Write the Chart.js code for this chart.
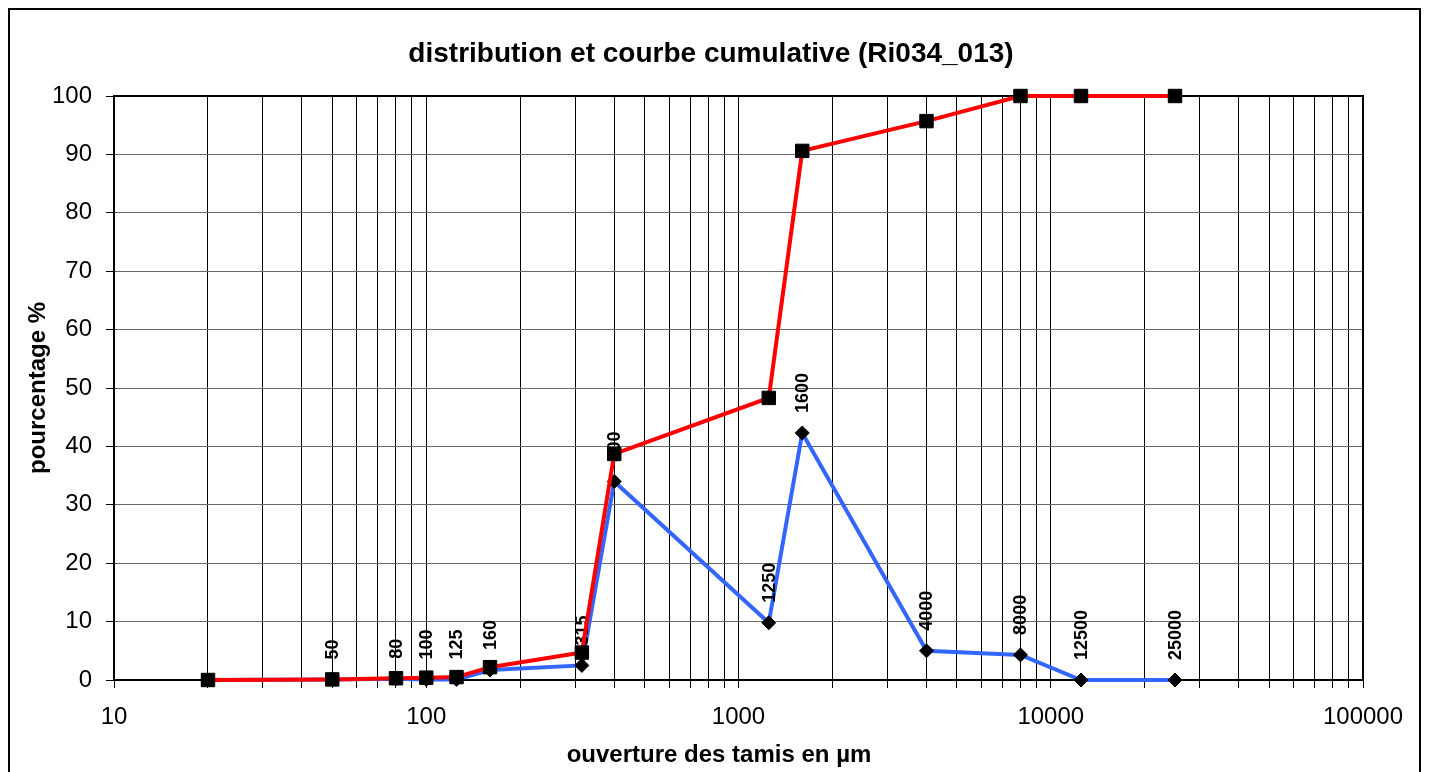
<!DOCTYPE html>
<html>
<head>
<meta charset="utf-8">
<script src="https://cdn.jsdelivr.net/npm/chart.js@4/dist/chart.umd.min.js"></script>
<style>
  html, body { margin: 0; padding: 0; background: #fff; }
  canvas { display: block; }
</style>
</head>
<body>
<canvas id="c" width="1429" height="772"></canvas>
<script>
// ---- data ----
const sieves = [20, 50, 80, 100, 125, 160, 315, 400, 1250, 1600, 4000, 8000, 12500, 25000];
const cumulative = [0, 0.1, 0.3, 0.4, 0.5, 2.2, 4.7, 38.7, 48.3, 90.6, 95.7, 100, 100, 100];
const distribution = [0, 0.1, 0.2, 0.1, 0.1, 1.7, 2.5, 34.0, 9.8, 42.3, 5.0, 4.3, 0, 0];
const pointLabels = ['', '50', '80', '100', '125', '160', '315', '400', '1250', '1600', '4000', '8000', '12500', '25000'];
const xTickValues = [10, 20, 30, 40, 50, 60, 70, 80, 90,
  100, 200, 300, 400, 500, 600, 700, 800, 900,
  1000, 2000, 3000, 4000, 5000, 6000, 7000, 8000, 9000,
  10000, 20000, 30000, 40000, 50000, 60000, 70000, 80000, 90000, 100000];
const xTickLabels = ['10', '100', '1000', '10000', '100000'];
const titleText = 'distribution et courbe cumulative (Ri034_013)';
const xTitle = 'ouverture des tamis en µm';
const yTitle = 'pourcentage %';

const FONT = "'Liberation Sans', Arial, sans-serif";
Chart.defaults.font.family = FONT;
Chart.defaults.color = '#000';

const labelPlugin = {
  id: 'pointLabels',
  afterDatasetDraw(chart, args) {
    if (args.index !== 1) return;
    const ctx = chart.ctx;
    const meta = args.meta;
    ctx.save();
    ctx.font = "bold 18px " + FONT;
    ctx.fillStyle = '#000';
    ctx.textAlign = 'left';
    ctx.textBaseline = 'middle';
    meta.data.forEach((pt, i) => {
      const t = pointLabels[i];
      if (!t) return;
      ctx.save();
      ctx.translate(pt.x + 1, pt.y - 20);
      ctx.rotate(-Math.PI / 2);
      ctx.fillText(t, 0, 0);
      ctx.restore();
    });
    ctx.restore();
  }
};

const framePlugin = {
  id: 'frames',
  beforeDatasetsDraw(chart) {
    const {ctx, chartArea: a} = chart;
    ctx.save();
    ctx.strokeStyle = '#000';
    ctx.lineWidth = 2;
    ctx.strokeRect(a.left, a.top, a.right - a.left, a.bottom - a.top);
    ctx.restore();
  },
  afterDraw(chart) {
    const ctx = chart.ctx;
    ctx.save();
    ctx.strokeStyle = '#000';
    ctx.lineWidth = 2;
    ctx.strokeRect(9, 9, 1411, 800);
    ctx.fillStyle = '#000';
    ctx.textAlign = 'center';
    ctx.textBaseline = 'middle';
    ctx.font = "bold 28px " + FONT;
    ctx.fillText(titleText, 711, 54);
    ctx.font = "bold 24px " + FONT;
    ctx.fillText(xTitle, 719, 755);
    ctx.restore();
  }
};

new Chart(document.getElementById('c'), {
  type: 'line',
  data: {
    datasets: [
      {
        label: 'cumulative',
        data: sieves.map((s, i) => ({x: s, y: cumulative[i]})),
        borderColor: '#FF0000',
        borderWidth: 4,
        pointStyle: 'rect',
        pointRadius: 9.5,
        pointBackgroundColor: '#000',
        pointBorderColor: '#000',
        pointBorderWidth: 1,
        tension: 0,
        clip: false
      },
      {
        label: 'distribution',
        data: sieves.map((s, i) => ({x: s, y: distribution[i]})),
        borderColor: '#3366FF',
        borderWidth: 4,
        pointStyle: 'rectRot',
        pointRadius: 7,
        pointBackgroundColor: '#000',
        pointBorderColor: '#000',
        pointBorderWidth: 1,
        tension: 0,
        clip: false
      }
    ]
  },
  options: {
    responsive: false,
    animation: false,
    devicePixelRatio: 1,
    layout: { padding: { left: 20, right: 66, top: 96, bottom: 0 } },
    plugins: {
      legend: { display: false },
      tooltip: { enabled: false },
      title: { display: false }
    },
    scales: {
      x: {
        type: 'logarithmic',
        min: 10,
        max: 100000,
        afterBuildTicks(scale) {
          scale.ticks = xTickValues.map(v => ({value: v}));
        },
        afterFit(scale) { scale.height = 92; },
        ticks: {
          autoSkip: false,
          maxRotation: 0,
          padding: 15,
          font: { family: FONT, size: 24 },
          color: '#000',
          callback(v) {
            const s = String(v);
            return xTickLabels.includes(s) ? s : '';
          }
        },
        grid: { color: '#000', lineWidth: 1, tickLength: 8, tickColor: '#000' },
        border: { color: '#000', width: 2 },
        title: { display: false }
      },
      y: {
        min: 0,
        max: 100,
        afterFit(scale) { scale.width = 94; },
        ticks: {
          stepSize: 10,
          padding: 14,
          font: { family: FONT, size: 24 },
          color: '#000'
        },
        grid: { color: '#6a6a6a', lineWidth: 1, tickLength: 8, tickColor: '#000' },
        border: { color: '#000', width: 2 },
        title: {
          display: true,
          text: yTitle,
          color: '#000',
          font: { family: FONT, size: 24, weight: 'bold' },
          padding: { top: 4, bottom: 0 }
        }
      }
    }
  },
  plugins: [labelPlugin, framePlugin]
});
</script>
</body>
</html>
